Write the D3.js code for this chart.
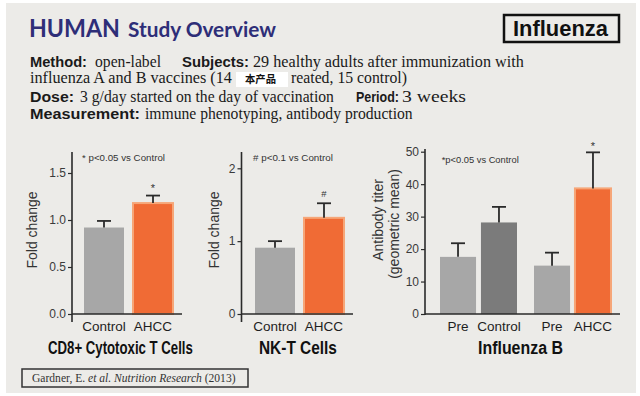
<!DOCTYPE html>
<html>
<head>
<meta charset="utf-8">
<script src="https://cdn.jsdelivr.net/npm/d3@7"></script>
<style>
  html, body { margin: 0; padding: 0; background: #ffffff; }
  svg { display: block; }
</style>
</head>
<body>
<svg id="chart" width="640" height="396"></svg>
<script>
// ---------------- DATA ----------------
const cd8Categories = ["Control", "AHCC"];
const cd8Values = [0.92, 1.18];
const cd8Errors = [0.07, 0.08];
const cd8Ticks = [0, 0.5, 1.0, 1.5];

const nktCategories = ["Control", "AHCC"];
const nktValues = [0.91, 1.32];
const nktErrors = [0.09, 0.20];
const nktTicks = [0, 1, 2];

const fluCategories = ["Pre", "Control", "Pre", "AHCC"];
const fluGroups = [0, 0, 1, 1];
const fluValues = [17.6, 28.2, 14.9, 38.7];
const fluErrors = [4.2, 4.8, 4.0, 11.1];
const fluTicks = [0, 10, 20, 30, 40, 50];

// ---------------- STYLE ----------------
const BG = "#ecebe8";
const GREY = "#a7a7a7";
const DARKGREY = "#7b7b7b";
const ORANGE = "#f06b35";
const HALO = "#f6a678";
const AXIS = "#2a2a2a";
const SANS = "'Liberation Sans', Arial, sans-serif";
const SERIF = "'Liberation Serif', 'Times New Roman', serif";

const svg = d3.select("#chart");

// Text starting at (x, y) with width w: font size shrinks a little (down to
// minRatio of base), the rest is a horizontal squeeze.
function fitText(parent, x, y, w, t, attrs, base, minRatio) {
  const el = parent.append("text").attr("x", 0).attr("y", 0);
  Object.entries(attrs).forEach(([k, v]) => el.attr(k, v));
  el.attr("font-size", base);
  if (typeof t === "function") t(el); else el.text(t);
  const natural = el.node().getComputedTextLength();
  let ratio = natural > 0 ? w / natural : 1;
  const fr = Math.max(minRatio, Math.min(1, ratio));
  el.attr("font-size", (base * fr).toFixed(2));
  const sx = ratio / fr;
  el.attr("transform", `translate(${x},${y}) scale(${sx.toFixed(4)},1)`);
  return el;
}

// panel background
svg.append("rect").attr("x", 6).attr("y", 3).attr("width", 630).attr("height", 390).attr("fill", BG);

// ---------------- HEADER ----------------
fitText(svg, 29, 37, 91, "HUMAN", {
  "font-family": "Lato, 'Liberation Sans', sans-serif", "font-weight": 700, "fill": "#2e2e78"
}, 28, 0.9);
fitText(svg, 128, 37, 148, "Study Overview", {
  "font-family": "Lato, 'Liberation Sans', sans-serif", "font-weight": 700, "fill": "#2e2e78"
}, 20, 0.95);

svg.append("rect").attr("x", 504).attr("y", 15).attr("width", 115).attr("height", 27)
  .attr("fill", "none").attr("stroke", "#111").attr("stroke-width", 2.5);
fitText(svg, 513, 36, 95, "Influenza", {
  "font-family": SANS, "font-weight": 700, "fill": "#111"
}, 24, 0.95);

const headerSegments = [
  { t: "Method:", x: 30, y: 67, w: 57, b: true },
  { t: "open-label", x: 95, y: 67, w: 66, b: false },
  { t: "Subjects:", x: 182, y: 67, w: 67, b: true },
  { t: "29 healthy adults after immunization with", x: 253, y: 67, w: 271, b: false },
  { t: "influenza A and B vaccines  (14", x: 30, y: 83, w: 202, b: false },
  { t: "reated, 15 control)", x: 291, y: 83, w: 116, b: false },
  { t: "Dose:", x: 30, y: 101.5, w: 44, b: true },
  { t: "3 g/day started on the day of vaccination", x: 80, y: 101.5, w: 254, b: false },
  { t: "Period:", x: 356, y: 101.5, w: 43, b: true },
  { t: "3 weeks", x: 402, y: 101.5, w: 64, b: false },
  { t: "Measurement:", x: 30, y: 119, w: 110, b: true },
  { t: "immune phenotyping, antibody production", x: 145, y: 119, w: 268, b: false }
];
const hg = svg.append("g");
headerSegments.forEach(d => {
  fitText(hg, d.x, d.y, d.w, d.t, {
    "font-family": d.b ? SANS : SERIF,
    "font-weight": d.b ? 700 : 400,
    "fill": "#1a1a1a"
  }, d.b ? 15.5 : 17.5, 0.9);
});

// white box with Chinese label
svg.append("rect").attr("x", 236).attr("y", 72).attr("width", 52).attr("height", 15).attr("fill", "#ffffff");
fitText(svg, 245, 83, 31, "本产品", {
  "font-family": "'Noto Sans CJK SC', sans-serif", "font-weight": 700, "fill": "#111"
}, 10.5, 0.8);

// ---------------- CHART HELPERS ----------------
function drawAxes(g, y, ticks, fmt, axisX, axisTop, axisBottom, xEnd) {
  const ax = g.append("g").attr("transform", `translate(${axisX},0)`)
    .call(d3.axisLeft(y).tickValues(ticks).tickFormat(fmt).tickSize(4).tickPadding(2));
  ax.select(".domain").remove();
  ax.selectAll(".tick line").attr("stroke", AXIS).attr("stroke-width", 1.2);
  ax.selectAll(".tick text").attr("font-family", SANS).attr("font-size", 12).attr("fill", "#3a3a3a");
  g.append("line").attr("x1", axisX).attr("x2", axisX).attr("y1", axisTop).attr("y2", axisBottom)
    .attr("stroke", AXIS).attr("stroke-width", 1.6);
  g.append("line").attr("x1", axisX).attr("x2", xEnd).attr("y1", y(0)).attr("y2", y(0))
    .attr("stroke", AXIS).attr("stroke-width", 1.6);
}

function drawBars(g, data, xPos, width, y, capW) {
  g.append("g").selectAll("rect").data(data).join("rect")
    .attr("x", d => xPos(d)).attr("width", width)
    .attr("y", d => y(d.v)).attr("height", d => y(0) - y(d.v))
    .attr("fill", d => d.c)
    .attr("stroke", d => d.c === ORANGE ? HALO : "none")
    .attr("stroke-width", 2);
  const eb = g.append("g").attr("stroke", AXIS).attr("stroke-width", 1.8);
  eb.selectAll("line.v").data(data).join("line").attr("class", "v")
    .attr("x1", d => xPos(d) + width / 2).attr("x2", d => xPos(d) + width / 2)
    .attr("y1", d => y(d.v)).attr("y2", d => y(d.v + d.e));
  eb.selectAll("line.c").data(data).join("line").attr("class", "c")
    .attr("x1", d => xPos(d) + width / 2 - capW / 2).attr("x2", d => xPos(d) + width / 2 + capW / 2)
    .attr("y1", d => y(d.v + d.e)).attr("y2", d => y(d.v + d.e));
  g.append("g").selectAll("text").data(data).join("text")
    .attr("x", d => xPos(d) + width / 2).attr("y", 331)
    .attr("text-anchor", "middle").attr("font-family", SANS).attr("font-size", 13.5).attr("fill", "#1e1e1e")
    .text(d => d.cat);
}

function small(g, x, y, t, w) {
  fitText(g, x, y, w, t, { "font-family": SANS, "fill": "#333" }, 9.5, 0.85);
}

function title(g, cx, t, w) {
  fitText(g, cx - w / 2, 354, w, t, {
    "font-family": "'Liberation Sans', Arial, sans-serif",
    "font-weight": 700, "fill": "#111"
  }, 19, 0.95);
}

function ylabel(g, x, cy, t, size) {
  g.append("text").attr("transform", `translate(${x},${cy}) rotate(-90)`)
    .attr("text-anchor", "middle").attr("font-family", SANS).attr("font-size", size).attr("fill", "#333")
    .text(t);
}

// ---------------- CHART 1: CD8+ ----------------
{
  const g = svg.append("g");
  const y = d3.scaleLinear().domain([0, 1.5]).range([314, 173]);
  const x = d3.scaleBand().domain(cd8Categories).range([84, 173]).paddingInner(0.184);
  const data = cd8Categories.map((c, i) => ({ cat: c, v: cd8Values[i], e: cd8Errors[i], c: i === 0 ? GREY : ORANGE }));
  drawBars(g, data, d => x(d.cat), x.bandwidth(), y, 14);
  drawAxes(g, y, cd8Ticks, d3.format(".1f"), 72, 152, 322, 182);
  ylabel(g, 37, 230, "Fold change", 14);
  small(g, 82, 161, "* p<0.05 vs Control", 83);
  g.append("text").attr("x", x("AHCC") + x.bandwidth() / 2).attr("y", y(cd8Values[1] + cd8Errors[1]) - 4)
    .attr("text-anchor", "middle").attr("font-family", SANS).attr("font-size", 11).attr("fill", "#333").text("*");
  title(g, 120.5, "CD8+ Cytotoxic T Cells", 145);
}

// ---------------- CHART 2: NK-T ----------------
{
  const g = svg.append("g");
  const y = d3.scaleLinear().domain([0, 2]).range([314, 168.3]);
  const x = d3.scaleBand().domain(nktCategories).range([255, 344]).paddingInner(0.184);
  const data = nktCategories.map((c, i) => ({ cat: c, v: nktValues[i], e: nktErrors[i], c: i === 0 ? GREY : ORANGE }));
  drawBars(g, data, d => x(d.cat), x.bandwidth(), y, 14);
  drawAxes(g, y, nktTicks, d3.format("d"), 241.5, 152, 322, 353);
  ylabel(g, 219, 230, "Fold change", 14);
  small(g, 253, 161, "# p<0.1 vs Control", 80);
  g.append("text").attr("x", x("AHCC") + x.bandwidth() / 2).attr("y", y(nktValues[1] + nktErrors[1]) - 6)
    .attr("text-anchor", "middle").attr("font-family", SANS).attr("font-size", 9.5).attr("fill", "#333").text("#");
  title(g, 298, "NK-T Cells", 78);
}

// ---------------- CHART 3: Influenza B ----------------
{
  const g = svg.append("g");
  const y = d3.scaleLinear().domain([0, 50]).range([314, 151.7]);
  const outer = d3.scaleBand().domain([0, 1]).range([440, 611]).paddingInner(0.181);
  const inner = d3.scaleBand().domain([0, 1]).range([0, outer.bandwidth()]).paddingInner(0.12);
  const colors = [GREY, DARKGREY, GREY, ORANGE];
  const data = fluCategories.map((c, i) => ({ cat: c, grp: fluGroups[i], idx: i % 2, v: fluValues[i], e: fluErrors[i], c: colors[i] }));
  drawBars(g, data, d => outer(d.grp) + inner(d.idx), inner.bandwidth(), y, 14);
  drawAxes(g, y, fluTicks, d3.format("d"), 425, 149, 315, 620);
  ylabel(g, 383, 220, "Antibody titer", 14);
  ylabel(g, 399, 224, "(geometric mean)", 14);
  small(g, 441.7, 163, "*p<0.05 vs Control", 77);
  const last = data[3];
  g.append("text").attr("x", outer(last.grp) + inner(last.idx) + inner.bandwidth() / 2).attr("y", y(last.v + last.e) - 2)
    .attr("text-anchor", "middle").attr("font-family", SANS).attr("font-size", 11).attr("fill", "#333").text("*");
  title(g, 520.5, "Influenza B", 85);
}

// ---------------- CITATION ----------------
svg.append("rect").attr("x", 22).attr("y", 369).attr("width", 226).attr("height", 18)
  .attr("fill", "none").attr("stroke", "#333").attr("stroke-width", 1.5);
fitText(svg, 32, 381.5, 204, el => {
  el.append("tspan").text("Gardner, E. ");
  el.append("tspan").attr("font-style", "italic").text("et al. Nutrition Research");
  el.append("tspan").text(" (2013)");
}, { "font-family": SERIF, "fill": "#333" }, 11.5, 0.9);
</script>
</body>
</html>
